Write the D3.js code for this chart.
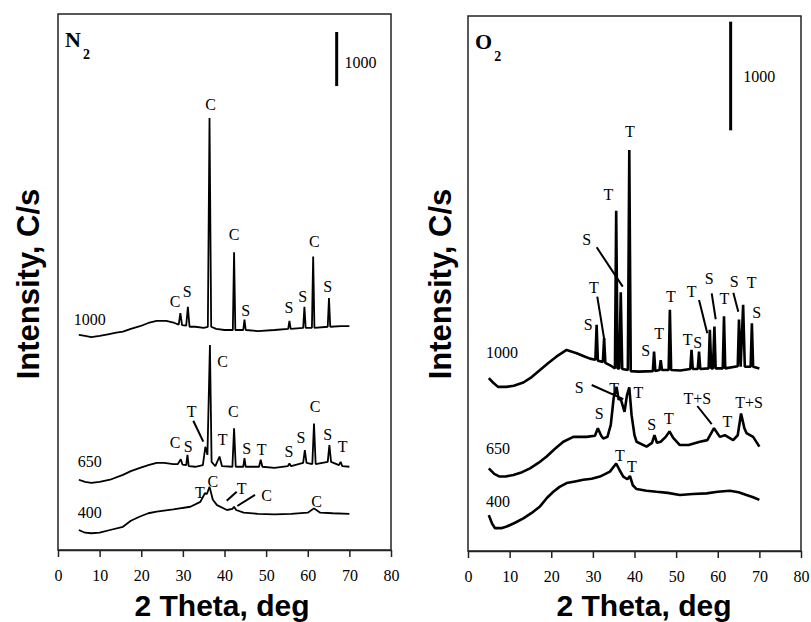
<!DOCTYPE html>
<html>
<head>
<meta charset="utf-8">
<script src="https://cdn.jsdelivr.net/npm/d3@7"></script>
<style>
body { margin: 0; background: #fff; }
</style>
</head>
<body>
<div id="chart-area"></div>
<script>
var xTicks = [0, 10, 20, 30, 40, 50, 60, 70, 80];

// N2 patterns, [2 theta, C/s] with the stacking offset included
var n2At1000 = [[5,3980],[6.5,3960],[8,3940],[10,3960],[12,3990],[14,4020],[15.6,4040],[17.5,4090],[19.7,4140],[21.7,4200],[23.7,4240],[26,4240],[28,4200],[29,4170],[29.4,4380],[29.8,4160],[30.8,4150],[31.2,4500],[31.6,4130],[33,4130],[35,4110],[36,4130],[36.4,7990],[36.8,4130],[38,4090],[40,4070],[42,4070],[42.3,5510],[42.6,4070],[44.5,4070],[44.8,4260],[45.1,4070],[48,4050],[52,4070],[55.3,4090],[55.6,4240],[55.9,4090],[58.9,4110],[59.2,4500],[59.5,4110],[61,4110],[61.3,5430],[61.6,4110],[64.8,4130],[65.1,4660],[65.4,4130],[68,4140],[70,4140]];
var n2At650 = [[5,1300],[6.5,1260],[8,1240],[10,1260],[12.5,1300],[15.6,1390],[17.5,1460],[19.7,1520],[21.7,1570],[23.7,1610],[25.5,1610],[27.7,1590],[28.8,1590],[29.5,1680],[29.9,1580],[30.8,1570],[31.1,1760],[31.4,1550],[33,1540],[34.8,1570],[35.4,1910],[35.9,1760],[36.5,3790],[36.9,1630],[37.8,1550],[38.8,1730],[39.4,1550],[41.9,1540],[42.3,2250],[42.7,1540],[44.5,1540],[44.8,1700],[45.1,1540],[48.3,1540],[48.7,1670],[49.1,1540],[52,1520],[55.2,1550],[55.6,1600],[56,1550],[58.9,1610],[59.3,1850],[59.7,1610],[61.1,1590],[61.5,2340],[61.9,1590],[64.8,1630],[65.2,1940],[65.6,1630],[67.5,1570],[67.9,1630],[68.3,1550],[70,1540]];
var n2At400 = [[5,370],[6.5,320],[8,310],[10,320],[12.5,370],[15.6,430],[17.5,540],[19.7,620],[21.7,680],[23.7,710],[27.7,750],[31.8,800],[34.2,890],[35.3,1050],[35.8,1040],[36.4,1170],[37.2,930],[38.2,830],[40.6,740],[41.9,760],[42.3,800],[42.8,740],[44.6,690],[48,670],[52,660],[56,670],[60,690],[61.5,770],[63,690],[66,680],[70,670]];

var n2Peaks = [[36.68,8140,"C"],[42.28,5735,"C"],[61.57,5611,"C"],[28.11,4501,"C"],[31.06,4686,"S"],[45.09,4329,"S"],[55.5,4379,"S"],[58.79,4594,"S"],[64.79,4779,"S"],
  [39.57,3391,"C"],[32.12,2455,"T"],[42.11,2455,"C"],[28.11,1881,"C"],[31.3,1819,"S"],[39.57,1943,"T"],[45.33,1776,"S"],[48.94,1758,"T"],[55.5,1726,"S"],[58.38,1974,"S"],[61.74,2559,"C"],[64.79,2035,"S"],[68.4,1819,"T"],
  [34.11,956,"T"],[37.17,1171,"C"],[44.13,1036,"T"],[50.14,912,"C"],[62.15,801,"C"]];
var n2Leaders = [[32.5,2392,34.9,2004],[40.53,912,42.93,1079],[43.08,814,47.33,1018]];
var n2Temps = [["1000",7.6,4163],["650",7.6,1541],["400",7.6,592]];

// O2 patterns
var o2At1000 = [[5,1590],[6,1550],[7.2,1510],[9.2,1510],[11,1520],[13.3,1550],[15.3,1600],[17.3,1665],[19.3,1730],[21.3,1790],[23.7,1850],[26.1,1820],[28,1790],[29.3,1770],[30.6,1760],[30.9,2080],[31.2,1750],[32.4,1740],[32.7,1960],[33,1730],[34.5,1700],[35.3,1680],[35.6,3130],[35.95,1680],[36.35,1680],[36.7,2380],[37.05,1675],[38.4,1665],[38.75,3690],[39.1,1655],[41,1650],[44.4,1655],[44.7,1835],[45,1655],[46,1665],[46.3,1755],[46.6,1665],[48.2,1665],[48.5,2220],[48.8,1665],[51,1660],[53.4,1675],[53.7,1850],[54,1675],[55.2,1675],[55.5,1835],[55.8,1675],[57.8,1680],[58.1,2035],[58.45,1680],[58.85,1680],[59.2,2065],[59.5,1680],[61.2,1680],[61.5,2160],[61.8,1680],[64.8,1700],[65.1,2130],[65.5,1695],[66.1,2265],[66.5,1695],[67.9,1695],[68.2,2095],[68.5,1695],[70,1680]];
var o2At650 = [[5,760],[6.3,710],[7.6,685],[9,685],[10.9,700],[13,725],[14.9,760],[16.9,810],[18.9,870],[20.9,940],[22.9,1005],[25.3,1050],[28.5,1050],[30.5,1060],[31.2,1130],[32,1060],[32.5,1035],[33.5,1050],[34.3,1160],[35,1410],[35.7,1510],[36.2,1390],[36.6,1410],[37.6,1280],[38.2,1435],[38.75,1505],[39.3,1250],[40,1065],[40.5,1005],[42.9,960],[44.2,995],[44.8,1065],[45.4,995],[46.3,1005],[47.5,1050],[48.4,1100],[49.3,1040],[50.9,975],[53,975],[55.7,1005],[57.5,1020],[59.1,1130],[60.5,1050],[61.7,1065],[63.7,1020],[64.8,1065],[65.6,1265],[66.4,1130],[66.9,1085],[68.5,1050],[70,960]];
var o2At400 = [[5,330],[5.8,250],[6.5,210],[8,210],[9.3,225],[11.3,260],[13.3,300],[15.3,350],[17.3,410],[19,490],[20.5,545],[22,590],[23.7,625],[25.7,640],[27.7,655],[29.7,665],[31.7,685],[34.1,730],[35.6,805],[36.4,745],[37.3,685],[38.3,660],[38.9,690],[39.6,605],[40.5,570],[42.9,555],[45.3,545],[48,535],[50.9,515],[54,525],[57.3,530],[60,545],[62.9,555],[65,540],[66.9,515],[68.5,495],[70,470]];

var o2Peaks = [[38.92,3812,"T"],[33.71,3229,"T"],[28.52,2815,"S"],[30.27,2371,"T"],[28.9,2033,"S"],[42.69,1797,"S"],[45.89,1948,"T"],[48.77,2294,"T"],[52.78,1895,"T"],[55.18,1865,"S"],[53.74,2340,"T"],[57.97,2456,"S"],[61.57,2272,"T"],[63.98,2426,"S"],[68.16,2417,"T"],[69.36,2141,"S"],
  [26.74,1456,"S"],[35.08,1444,"T"],[40.91,1405,"T"],[31.54,1212,"S"],[44.13,1113,"S"],[48.29,1168,"T"],[55.09,1352,"T+S"],[62.29,1144,"T"],[67.51,1313,"T+S"],
  [36.52,828,"T"],[39.4,730,"T"]];
var o2Leaders = [[30.92,2794,37.17,2432],[31.06,2340,32.75,1941],[55.5,2309,57.49,2003],[58.55,2371,59.51,2132],[63.74,2376,64.94,2202],[29.72,1527,37.31,1398],[55.09,1334,58.55,1168]];
var o2Temps = [["1000",4.32,1773],["650",4.32,892],["400",4.32,408]];

var svg = d3.select("#chart-area")
    .append("svg")
        .attr("width", 811)
        .attr("height", 622);

var serif = "'Liberation Serif', 'Times New Roman', serif";
var sans = "'Liberation Sans', Arial, sans-serif";

function drawPanel(p) {
    var x = d3.scaleLinear().domain([0, 80]).range([p.left, p.right]);
    var y = d3.scaleLinear().domain([0, p.yMax]).range([p.bottom, p.top]);

    var g = svg.append("g");

    g.append("rect")
        .attr("x", p.left)
        .attr("y", p.top)
        .attr("width", p.right - p.left)
        .attr("height", p.bottom - p.top)
        .attr("fill", "none")
        .attr("stroke", "#222")
        .attr("stroke-width", 1.5);

    var xAxisCall = d3.axisBottom(x).tickValues(xTicks).tickSize(7).tickSizeOuter(0).tickPadding(13);
    var xAxisGroup = g.append("g")
        .attr("transform", "translate(0, " + p.bottom + ")")
        .call(xAxisCall);
    xAxisGroup.selectAll("path, line").attr("stroke", "#222").attr("stroke-width", 1.5);
    xAxisGroup.selectAll("text")
        .attr("font-family", serif)
        .attr("font-size", "16px")
        .attr("fill", "#000");

    var line = d3.line()
        .x(function(d) { return x(d[0]); })
        .y(function(d) { return y(d[1]); });

    g.selectAll(".trace").data(p.traces).enter().append("path")
        .attr("class", "trace")
        .attr("d", line)
        .attr("fill", "none")
        .attr("stroke", "#000")
        .attr("stroke-width", p.lineWidth)
        .attr("stroke-linejoin", "bevel");

    g.selectAll(".leader").data(p.leaders).enter().append("line")
        .attr("class", "leader")
        .attr("x1", function(d) { return x(d[0]); })
        .attr("y1", function(d) { return y(d[1]); })
        .attr("x2", function(d) { return x(d[2]); })
        .attr("y2", function(d) { return y(d[3]); })
        .attr("stroke", "#000")
        .attr("stroke-width", 2);

    g.selectAll(".peak").data(p.peaks).enter().append("text")
        .attr("class", "peak")
        .attr("x", function(d) { return x(d[0]); })
        .attr("y", function(d) { return y(d[1]); })
        .attr("text-anchor", "middle")
        .attr("font-family", serif)
        .attr("font-size", "16px")
        .attr("fill", "#000")
        .text(function(d) { return d[2]; });

    g.selectAll(".temp").data(p.temps).enter().append("text")
        .attr("class", "temp")
        .attr("x", function(d) { return x(d[1]); })
        .attr("y", function(d) { return y(d[2]); })
        .attr("text-anchor", p.tempAnchor)
        .attr("font-family", serif)
        .attr("font-size", "16px")
        .text(function(d) { return d[0]; });

    // 1000 C/s scale bar
    g.append("line")
        .attr("x1", x(p.bar[0]))
        .attr("x2", x(p.bar[0]))
        .attr("y1", y(p.bar[1]))
        .attr("y2", y(p.bar[1] - 1000))
        .attr("stroke", "#000")
        .attr("stroke-width", 3);
    g.append("text")
        .attr("x", x(p.barLabel[0]))
        .attr("y", y(p.barLabel[1]))
        .attr("font-family", serif)
        .attr("font-size", "16px")
        .text("1000");

    var gas = g.append("text")
        .attr("x", p.left + 7)
        .attr("y", p.top + 33)
        .attr("font-family", serif)
        .attr("font-weight", "bold")
        .attr("font-size", "22px")
        .text(p.gas);
    gas.append("tspan")
        .attr("dx", 2)
        .attr("dy", 12)
        .attr("font-size", "14px")
        .text("2");

    g.append("text")
        .attr("x", p.titleX)
        .attr("y", 616)
        .attr("text-anchor", "middle")
        .attr("font-family", sans)
        .attr("font-weight", "bold")
        .attr("font-size", "30px")
        .text("2 Theta, deg");

    g.append("text")
        .attr("transform", "translate(" + p.yTitleX + ", 284) rotate(-90)")
        .attr("text-anchor", "middle")
        .attr("font-family", sans)
        .attr("font-weight", "bold")
        .attr("font-size", "31px")
        .text("Intensity, C/s");
}

drawPanel({
    left: 58, right: 391, top: 14, bottom: 550, yMax: 9916,
    traces: [n2At1000, n2At650, n2At400], lineWidth: 1.8,
    peaks: n2Peaks, leaders: n2Leaders, temps: n2Temps, tempAnchor: "middle",
    bar: [66.95, 9583], barLabel: [68.8, 8917],
    gas: "N", titleX: 222, yTitleX: 39
});

drawPanel({
    left: 468, right: 801, top: 16, bottom: 551, yMax: 4922,
    traces: [o2At1000, o2At650, o2At400], lineWidth: 2.6,
    peaks: o2Peaks, leaders: o2Leaders, temps: o2Temps, tempAnchor: "start",
    bar: [63.1, 4870], barLabel: [66.1, 4318],
    gas: "O", titleX: 644, yTitleX: 451
});
</script>
</body>
</html>
